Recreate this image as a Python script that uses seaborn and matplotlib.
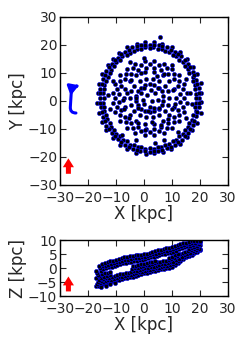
import numpy as np
import pandas as pd
import seaborn as sns
import matplotlib.pyplot as plt
from matplotlib.patches import FancyArrowPatch


sns.set_style("ticks", {"xtick.direction": "in", "ytick.direction": "in"})
plt.rcParams['font.family'] = ['DejaVu Sans']

# face-on view (x, y) in kpc
outer_x = [20.5, 20.2, 18.9, 17.4, 15.2, 12.9, 9.9, 6.6, 3.6, 0.4, -2.6, -5.9,
           -8.9, -11.2, -13.0, -14.9, -16.2, -16.5, -16.7, -16.0, -14.9, -13.4,
           -11.2, -8.5, -5.9, -2.8, 0.6, 3.6, 6.8, 9.7, 12.7, 15.4, 17.2, 18.9,
           20.2, 20.5]
outer_y = [2.7, 6.4, 9.5, 12.3, 15.1, 17.6, 19.1, 20.5, 20.9, 21.1, 20.3, 19.1,
           17.2, 15.1, 12.7, 9.5, 6.0, 2.7, -0.9, -4.2, -7.5, -10.3, -13.1,
           -15.6, -17.1, -18.5, -18.9, -18.7, -18.3, -17.3, -15.4, -12.9, -10.5,
           -7.7, -4.2, -0.5]
ring_a_x = [19.8, 19.5, 18.5, 17.4, 15.6, 13.2, 10.9, 8.1, 5.3, 2.0, -1.1, -4.3,
            -6.9, -9.4, -11.4, -13.4, -14.7, -15.7, -15.8, -15.5, -14.5, -13.4,
            -11.6, -9.2, -6.9, -4.1, -1.3, 2.0, 5.1, 8.3, 10.9, 13.4, 15.8, 17.4,
            18.7, 19.7]
ring_a_y = [1.0, 4.5, 7.6, 10.4, 13.3, 15.9, 17.6, 19.2, 19.9, 20.0, 19.9, 19.2,
            17.6, 15.5, 13.3, 10.6, 7.8, 4.3, 1.2, -2.3, -5.6, -8.8, -11.3,
            -13.7, -15.8, -17.0, -17.9, -18.4, -17.9, -16.8, -15.6, -13.9, -11.3,
            -8.6, -5.4, -2.3]
ring_a2_x = [18.7, 18.2, 17.4, 15.8, 13.9, 11.4, 9.1, 6.4, 3.3, 0.5, -2.4, -5.1,
             -7.8, -9.9, -11.8, -13.0, -14.2, -14.7, -14.5, -14.2, -13.2, -11.8,
             -10.1, -7.6, -5.1, -2.2, 0.5, 3.5, 6.2, 9.1, 11.6, 13.9, 15.6, 17.2,
             18.4, 18.7]
ring_a2_y = [2.6, 5.7, 8.5, 11.4, 13.9, 16.1, 17.5, 18.6, 19.3, 19.1, 18.6, 17.3,
             15.9, 13.9, 11.2, 8.7, 5.7, 2.8, -0.6, -3.7, -6.5, -9.4, -11.9,
             -13.9, -15.7, -16.6, -17.3, -17.1, -16.6, -15.5, -14.1, -11.9, -9.4,
             -6.7, -3.7, -0.8]
ring_a3_x = [18.4, 18.2, 17.4, 16.2, 14.6, 12.6, 10.2, 7.6, 4.9, 2.0, -0.9, -3.6,
             -6.2, -8.6, -10.6, -12.2, -13.4, -14.2, -14.4, -14.2, -13.4, -12.2,
             -10.6, -8.6, -6.2, -3.6, -0.9, 2.0, 4.9, 7.6, 10.2, 12.6, 14.6, 16.2,
             17.4, 18.2]
ring_a3_y = [1.0, 4.1, 7.1, 9.9, 12.5, 14.6, 16.4, 17.7, 18.5, 18.8, 18.5, 17.7,
             16.4, 14.6, 12.5, 9.9, 7.1, 4.1, 1.0, -2.1, -5.1, -7.9, -10.5,
             -12.6, -14.4, -15.7, -16.5, -16.8, -16.5, -15.7, -14.4, -12.6, -10.5,
             -7.9, -5.1, -2.1]
ring_a4_x = [19.6, 19.1, 18.0, 16.5, 14.5, 12.2, 9.5, 6.6, 3.5, 0.5, -2.6, -5.5,
             -8.2, -10.5, -12.5, -14.0, -15.1, -15.6, -15.6, -15.1, -14.0, -12.5,
             -10.5, -8.2, -5.5, -2.6, 0.5, 3.5, 6.6, 9.5, 12.2, 14.5, 16.5, 18.0,
             19.1, 19.6]
ring_a4_y = [2.7, 5.9, 9.1, 12.0, 14.5, 16.6, 18.3, 19.5, 20.0, 20.0, 19.5, 18.3,
             16.6, 14.5, 12.0, 9.1, 5.9, 2.7, -0.7, -3.9, -7.1, -10.0, -12.5,
             -14.6, -16.3, -17.5, -18.0, -18.0, -17.5, -16.3, -14.6, -12.5, -10.0,
             -7.1, -3.9, -0.7]
ring_b_x = [14.2, 13.8, 12.6, 10.6, 8.1, 5.2, 2.0, -1.2, -4.1, -6.6, -8.6, -9.8,
            -10.2, -9.8, -8.6, -6.6, -4.1, -1.2, 2.0, 5.2, 8.1, 10.6, 12.6, 13.8]
ring_b_y = [1.0, 4.2, 7.1, 9.6, 11.6, 12.8, 13.2, 12.8, 11.6, 9.6, 7.1, 4.2,
            1.0, -2.2, -5.1, -7.6, -9.6, -10.8, -11.2, -10.8, -9.6, -7.6, -5.1,
            -2.2]
ring_b2_x = [12.9, 12.2, 10.7, 8.7, 6.2, 3.4, 0.6, -2.2, -4.7, -6.7, -8.2, -8.9,
             -8.9, -8.2, -6.7, -4.7, -2.2, 0.6, 3.4, 6.2, 8.7, 10.7, 12.2, 12.9]
ring_b2_y = [2.4, 5.2, 7.7, 9.7, 11.2, 11.9, 11.9, 11.2, 9.7, 7.7, 5.2, 2.4,
             -0.4, -3.2, -5.7, -7.7, -9.2, -9.9, -9.9, -9.2, -7.7, -5.7, -3.2,
             -0.4]
ring_b3_x = [15.2, 14.3, 12.5, 10.1, 7.1, 3.7, 0.3, -3.1, -6.1, -8.5, -10.3,
             -11.2, -11.2, -10.3, -8.5, -6.1, -3.1, 0.3, 3.7, 7.1, 10.1, 12.5,
             14.3, 15.2]
ring_b3_y = [2.7, 6.1, 9.1, 11.5, 13.3, 14.2, 14.2, 13.3, 11.5, 9.1, 6.1, 2.7,
             -0.7, -4.1, -7.1, -9.5, -11.3, -12.2, -12.2, -11.3, -9.5, -7.1,
             -4.1, -0.7]
ring_c_x = [9.0, 8.6, 7.4, 5.5, 3.2, 0.8, -1.5, -3.4, -4.6, -5.0, -4.6, -3.4,
            -1.5, 0.8, 3.2, 5.5, 7.4, 8.6]
ring_c_y = [1.0, 3.4, 5.5, 7.1, 7.9, 7.9, 7.1, 5.5, 3.4, 1.0, -1.4, -3.5, -5.1,
            -5.9, -5.9, -5.1, -3.5, -1.4]
ring_c2_x = [6.9, 6.3, 5.2, 3.7, 2.0, 0.3, -1.2, -2.3, -2.9, -2.9, -2.3, -1.2,
             0.3, 2.0, 3.7, 5.2, 6.3, 6.9]
ring_c2_y = [1.9, 3.5, 4.8, 5.7, 6.0, 5.7, 4.8, 3.5, 1.9, 0.1, -1.5, -2.8,
             -3.7, -4.0, -3.7, -2.8, -1.5, 0.1]
ring_d_x = [11.3, 10.7, 9.1, 6.7, 3.6, 0.4, -2.7, -5.1, -6.7, -7.3, -6.7, -5.1,
            -2.7, 0.4, 3.6, 6.7, 9.1, 10.7]
ring_d_y = [1.0, 4.2, 7.0, 9.1, 10.2, 10.2, 9.1, 7.0, 4.2, 1.0, -2.2, -5.0,
            -7.1, -8.2, -8.2, -7.1, -5.0, -2.2]
core_x = [1.0, 3.0, 4.0, 0.0, 2.0, -1.0, 5.0, 2.5, -0.5, 3.5, 4.5, -1.0, -6.0,
          -7.0, -2.0, 6.0, 10.0, 10.5, 7.0, -4.5, 0.0, 5.0, 5.5, -2.0, -3.0,
          1.5, 8.5, -5.5, 3.0, -7.5, 11.0, 0.5]
core_y = [2.0, 0.0, 3.0, -1.0, -2.0, 3.0, 0.5, 4.0, 0.5, -2.5, 9.0, 10.0, 3.0,
          -3.0, -8.0, -8.5, -3.0, 4.0, 9.5, 7.5, 4.5, 4.5, -2.5, -2.5, 1.0,
          -3.5, -6.5, -6.0, -7.5, 0.5, -1.0, -10.5]
stray_x = [16.5, -12.0, 10.0, -5.0, 7.0, -11.0, 15.0, -3.0, 15.0, 0.0, -13.0,
           12.0, -8.0, 4.0, 17.0, 5.7]
stray_y = [3.0, -3.0, 13.0, 14.0, -14.0, 7.0, -6.0, -14.0, 8.0, 15.5, 2.0,
           -11.0, -12.0, -15.0, -1.0, 22.9]

# edge-on view (x, z) in kpc
lo_x = [-17, -16, -15, -14, -13, -12, -11, -10, -9, -8, -7, -6, -5, -4, -3, -2,
        -1, 0, 1, 2, 3, 4, 5, 6, 7, 8, 9, 10, 11, 12, 13, 14, 15, 16, 17, 18,
        19, 20, -15.5, -13.5, -12, -10.5]
lo_z = [-6.3, -6.2, -5.8, -5.5, -5.3, -5.1, -4.7, -4.4, -4.1, -3.9, -3.7, -3.5,
        -3.3, -3.0, -2.7, -2.4, -2.1, -1.8, -1.6, -1.4, -1.2, -0.9, -0.7, -0.4,
        -0.2, 0.0, 0.2, 0.4, 1.0, 1.8, 2.6, 3.3, 3.8, 4.3, 4.8, 5.3, 5.8, 6.5,
        -6.8, -6.2, -5.8, -5.3]
e1_x = [-16.75, -15.75, -14.75, -13.75, -12.75, -11.75, -10.75, -9.75, -8.75,
        -7.75, -6.75, -5.75, -4.75, -3.75, -2.75, -1.75, -0.75, 0.25, 1.25,
        2.25, 3.25, 4.25, 5.25, 6.25, 7.25, 8.25, 9.25, 10.25, 11.25, 12.25,
        13.25, 14.25, 15.25, 16.25, 17.25, 18.25, 19.25, 20.0]
e1_z = [-5.6, -5.3, -4.9, -4.6, -4.4, -4.2, -3.8, -3.5, -3.2, -3.0, -2.8, -2.6,
        -2.4, -2.1, -1.8, -1.5, -1.25, -0.95, -0.75, -0.55, -0.3, 0.0, 0.2,
        0.5, 0.7, 0.9, 1.1, 1.3, 1.9, 2.6, 3.35, 4.0, 4.45, 4.9, 5.4, 5.85,
        6.3, 6.9]
q1_x = [-16.5, -15.5, -14.5, -13.5, -12.5, -11.5, -10.5, -9.5, -8.5, -7.5, -6.5,
        -5.5, -4.5, -3.5, -2.5, -1.5, -0.5, 0.5, 1.5, 2.5, 3.5, 4.5, 5.5, 6.5,
        7.5, 8.5, 9.5, 10.5, 11.5, 12.5, 13.5, 14.5, 15.5, 16.5, 17.5, 18.5,
        19.5]
q1_z = [-5.0, -4.45, -4.0, -3.7, -3.45, -3.2, -2.85, -2.55, -2.25, -2.0, -1.8,
        -1.6, -1.4, -1.15, -0.9, -0.65, -0.4, -0.1, 0.1, 0.3, 0.55, 0.85, 1.1,
        1.35, 1.6, 1.8, 2.0, 2.2, 2.75, 3.4, 4.1, 4.7, 5.1, 5.55, 6.0, 6.4, 6.8]
e3_x = [-16.25, -15.25, -14.25, -13.25, -12.25, -4.25, -3.25, -2.25, -1.25,
        -0.25, 0.75, 1.75, 2.75, 3.75, 4.75, 5.75, 6.75, 7.75, 8.75, 9.75,
        10.75, 11.75, 12.75, 13.75, 14.75, 15.75, 16.75, 17.75, 18.75]
e3_z = [-4.3, -3.6, -3.05, -2.75, -2.5, -0.2, 0.0, 0.2, 0.45, 0.7, 0.95, 1.2,
        1.4, 1.7, 2.0, 2.2, 2.5, 2.7, 2.9, 3.1, 3.6, 4.2, 4.85, 5.4, 5.8, 6.2,
        6.55, 6.9, 7.25]
mid_x = [-17, -16, -15, -14, -13, -12, -4, -3, -2, -1, 0, 1, 2, 3, 4, 9, 10,
         11, 12, 16, 17, 18, 19, 20]
mid_z = [-3.7, -2.7, -2.15, -1.85, -1.6, -1.35, 0.7, 0.9, 1.1, 1.3, 1.55, 1.8,
         2.05, 2.3, 2.6, 3.75, 4.0, 4.5, 5.05, 6.8, 7.15, 7.45, 7.75, 8.1]
q3_x = [-16.5, -15.5, -14.5, -13.5, -12.5, -11.5, -10.5, -9.5, -8.5, -7.5, -6.5,
        -5.5, -4.5, -3.5, -2.5, -1.5, -0.5, 0.5, 1.5, 2.5, 3.5, 4.5, 5.5, 6.5,
        7.5, 8.5, 9.5, 10.5, 11.5, 12.5, 13.5, 14.5, 15.5, 16.5, 17.5, 18.5,
        19.5]
q3_z = [-2.3, -0.95, -0.3, 0.0, 0.25, 0.5, 0.85, 1.15, 1.45, 1.7, 1.9, 2.1, 2.3,
        2.55, 2.7, 2.85, 3.0, 3.2, 3.5, 3.8, 4.05, 4.35, 4.65, 4.85, 5.1, 5.3,
        5.5, 5.8, 6.25, 6.65, 7.1, 7.5, 7.8, 8.05, 8.35, 8.55, 8.75]
e7_x = [-16.75, -15.75, -14.75, -13.75, -12.75, -11.75, -10.75, -9.75, -8.75,
        -7.75, -6.75, -5.75, -4.75, -3.75, -2.75, -1.75, -0.75, 0.25, 1.25,
        2.25, 3.25, 4.25, 5.25, 6.25, 7.25, 8.25, 9.25, 10.25, 11.25, 12.25,
        13.25, 14.25, 15.25, 16.25, 17.25, 18.25, 19.25, 20.0]
e7_z = [-1.65, -0.1, 0.6, 0.9, 1.2, 1.45, 1.75, 2.05, 2.35, 2.65, 2.85, 3.05,
        3.25, 3.45, 3.6, 3.7, 3.85, 4.05, 4.35, 4.65, 4.9, 5.2, 5.5, 5.7, 6.0,
        6.2, 6.4, 6.7, 7.1, 7.5, 7.85, 8.2, 8.45, 8.65, 8.9, 9.05, 9.2, 9.3]
hi_x = [-17, -16, -15, -14, -13, -12, -11, -10, -9, -8, -7, -6, -5, -4, -3, -2,
        -1, 0, 1, 2, 3, 4, 5, 6, 7, 8, 9, 10, 11, 12, 13, 14, 15, 16, 17, 18,
        19, 20]
hi_z = [-1.0, 0.8, 1.5, 1.8, 2.1, 2.4, 2.7, 3.0, 3.3, 3.6, 3.8, 4.0, 4.2, 4.4,
        4.5, 4.6, 4.7, 4.9, 5.2, 5.5, 5.8, 6.1, 6.4, 6.6, 6.9, 7.1, 7.3, 7.6,
        8.0, 8.3, 8.6, 8.9, 9.1, 9.3, 9.5, 9.6, 9.7, 9.7]

face = pd.DataFrame({
    "x": outer_x + ring_a_x + ring_a2_x + ring_a3_x + ring_a4_x + ring_b_x
    + ring_b2_x + ring_b3_x + ring_c_x + ring_c2_x + ring_d_x + core_x
    + stray_x,
    "y": outer_y + ring_a_y + ring_a2_y + ring_a3_y + ring_a4_y + ring_b_y
    + ring_b2_y + ring_b3_y + ring_c_y + ring_c2_y + ring_d_y + core_y
    + stray_y,
})
side = pd.DataFrame({
    "x": lo_x + e1_x + q1_x + e3_x + mid_x + q3_x + e7_x + hi_x,
    "z": lo_z + e1_z + q1_z + e3_z + mid_z + q3_z + e7_z + hi_z,
})

fig = plt.figure(figsize=(2.4, 3.53), dpi=100)
ax1 = fig.add_axes([0.25, 0.476, 0.70, 0.476])
ax2 = fig.add_axes([0.25, 0.161, 0.70, 0.159])

sns.scatterplot(data=face, x="x", y="y", ax=ax1, color="k", edgecolor="b",
                s=9, linewidth=0.4)
sns.scatterplot(data=side, x="x", y="z", ax=ax2, color="k", edgecolor="b",
                s=9, linewidth=0.4)

for ax in (ax1, ax2):
    ax.set_xlim(-30, 30)
    ax.set_xticks(np.arange(-30, 31, 10))
    ax.tick_params(top=True, right=True, length=4, width=0.8, labelsize=10)
    ax.tick_params(axis="x", pad=4)
    ax.tick_params(axis="y", pad=2)
    for sp in ax.spines.values():
        sp.set_linewidth(1.0)
        sp.set_color("k")
    ax.set_xlabel("X [kpc]", fontsize=12, labelpad=0)

ax1.set_ylim(-30, 30)
ax1.set_yticks(np.arange(-30, 31, 10))
ax1.set_ylabel("Y [kpc]", fontsize=12, labelpad=1)
ax2.set_ylim(-10, 10)
ax2.set_yticks([-10, -5, 0, 5, 10])
ax2.set_ylabel("Z [kpc]", fontsize=12, labelpad=1)

# direction markers
red_style = "simple,head_width=1.0,head_length=0.8,tail_width=0.45"
ax1.add_patch(FancyArrowPatch((-27.0, -27.0), (-27.0, -19.5),
                              arrowstyle=red_style, mutation_scale=8,
                              color="red", lw=0))
ax2.add_patch(FancyArrowPatch((-27.0, -9.3), (-27.0, -2.0),
                              arrowstyle=red_style, mutation_scale=8,
                              color="red", lw=0))
ax1.annotate("", xy=(-23.2, 5.6), xytext=(-24.3, -4.3),
             arrowprops=dict(arrowstyle="-|>,head_width=0.3,head_length=0.5",
                             connectionstyle="arc,angleA=180,angleB=200,"
                                             "armA=6,armB=8,rad=6",
                             color="blue", lw=2.2, mutation_scale=10,
                             shrinkA=0, shrinkB=0))

fig.savefig("out.png", dpi=100)
